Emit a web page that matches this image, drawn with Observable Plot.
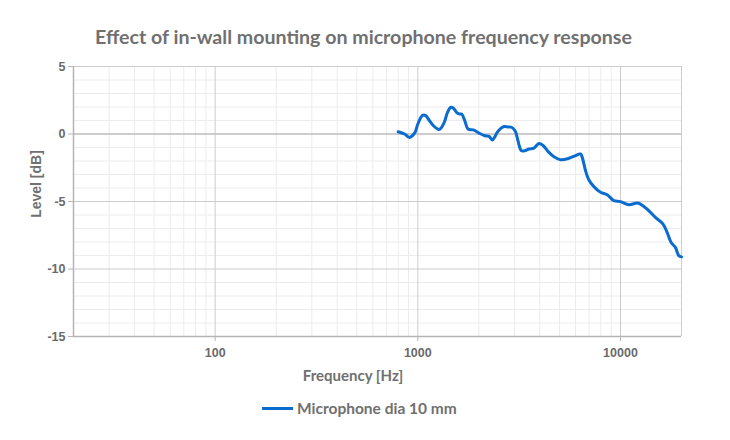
<!DOCTYPE html>
<html>
<head>
<meta charset="utf-8">
<script src="https://cdn.jsdelivr.net/npm/d3@7"></script>
<script src="https://cdn.jsdelivr.net/npm/@observablehq/plot@0.6"></script>
<style>
  body { margin: 0; background: #fff; }
  #wrap { position: relative; width: 730px; height: 440px; overflow: hidden; }
  #wrap svg { position: absolute; left: 0; top: 0; }
  .title { position: absolute; left: 0; width: 727px; top: 25px; text-align: center;
           font: bold 19.6px Lato, "Open Sans", sans-serif; color: #707070; }
  .xlabel { position: absolute; left: 253px; width: 200px; top: 366px; text-align: center;
            font: bold 15px Lato, sans-serif; color: #707070; }
  .ylabel { position: absolute; left: 36px; top: 184px; transform: translate(-50%,-50%) rotate(-90deg);
            font: bold 14px "Liberation Sans", Arial, sans-serif; color: #707070; white-space: nowrap; }
  .legend { position: absolute; left: 262px; top: 399px; font: bold 15.5px Lato, sans-serif; color: #707070;
            display: flex; align-items: center; }
  .legend span.sw { display: inline-block; width: 31px; height: 3px; background: #0a6ccf; margin-right: 4px; }
</style>
</head>
<body>
<div id="wrap">
  <div class="title">Effect of in-wall mounting on microphone frequency response</div>
  <div class="xlabel">Frequency [Hz]</div>
  <div class="ylabel">Level [dB]</div>
  <div class="legend"><span class="sw"></span>Microphone dia 10 mm</div>
</div>
<script>
const seriesName = "Microphone dia 10 mm";
const freq = [800, 860, 906, 940, 972, 1000, 1055, 1094, 1140, 1194, 1259, 1289, 1350, 1401, 1452, 1499, 1565, 1610, 1646, 1704, 1770, 1881, 2004, 2143, 2245, 2334, 2400, 2465, 2560, 2664, 2800, 2900, 3027, 3120, 3182, 3243, 3367, 3535, 3741, 3962, 4161, 4433, 4695, 5062, 5562, 5998, 6350, 6475, 6723, 6984, 7390, 7968, 8599, 9274, 10000, 11000, 12087, 12548, 13532, 14865, 16218, 16982, 17783, 18664, 19388, 20000];
const level = [0.17, 0.0, -0.25, -0.13, 0.17, 0.74, 1.38, 1.36, 1.0, 0.61, 0.35, 0.37, 0.86, 1.6, 1.97, 1.9, 1.55, 1.48, 1.48, 0.99, 0.37, 0.3, 0.07, -0.13, -0.18, -0.44, -0.2, 0.12, 0.4, 0.56, 0.52, 0.5, 0.2, -0.5, -0.99, -1.24, -1.24, -1.11, -1.04, -0.7, -0.87, -1.36, -1.68, -1.9, -1.8, -1.6, -1.48, -1.73, -2.72, -3.41, -3.9, -4.32, -4.5, -4.94, -5.01, -5.24, -5.11, -5.19, -5.56, -6.18, -6.67, -7.29, -8.03, -8.4, -9.01, -9.1];
const xTicks = [100, 1000, 10000];
const xMinor = [30, 40, 50, 60, 70, 80, 90, 200, 300, 400, 500, 600, 700, 800, 900, 2000, 3000, 4000, 5000, 6000, 7000, 8000, 9000];
const yTicks = [-15, -10, -5, 0, 5];
const yMinor = [-14, -13, -12, -11, -9, -8, -7, -6, -4, -3, -2, -1, 1, 2, 3, 4];

const data = freq.map((f, i) => ({f, v: level[i], s: seriesName}));

const chart = Plot.plot({
  width: 730,
  height: 440,
  marginLeft: 73,
  marginRight: 49,
  marginTop: 66,
  marginBottom: 104,
  style: {background: "transparent", fontFamily: "'Liberation Sans', Arial, sans-serif", fontSize: "12px", fontWeight: "bold", color: "#6a6a6a"},
  x: {type: "log", domain: [20, 20000]},
  y: {domain: [-15, 5]},
  marks: [
    Plot.ruleX(xMinor, {stroke: "#ececec", strokeWidth: 1}),
    Plot.ruleY(yMinor, {stroke: "#ececec", strokeWidth: 1}),
    Plot.ruleX([...xTicks, 20000], {stroke: "#cccccc", strokeWidth: 1}),
    Plot.ruleY([-10, -5, 5], {stroke: "#cccccc", strokeWidth: 1}),
    Plot.ruleY([0], {stroke: "#bdbdbd", strokeWidth: 1.6}),
    Plot.ruleX([20], {stroke: "#b5b5b5", strokeWidth: 1.5}),
    Plot.ruleY([-15], {stroke: "#b5b5b5", strokeWidth: 1.5}),
    Plot.axisX({ticks: xTicks, tickFormat: d => String(d), tickSize: 5, tickPadding: 7, stroke: "#b5b5b5", label: null, fill: "#6a6a6a", fontSize: 12.5, fontWeight: "bold"}),
    Plot.axisY({ticks: yTicks, tickFormat: d => String(d), tickSize: 5, tickPadding: 3, stroke: "#b5b5b5", label: null, fill: "#6a6a6a", fontSize: 12.5, fontWeight: "bold"}),
    Plot.line(data, {x: "f", y: "v", stroke: "#0a6ccf", strokeWidth: 3, curve: "catmull-rom"})
  ]
});
document.getElementById("wrap").prepend(chart);
</script>
</body>
</html>
